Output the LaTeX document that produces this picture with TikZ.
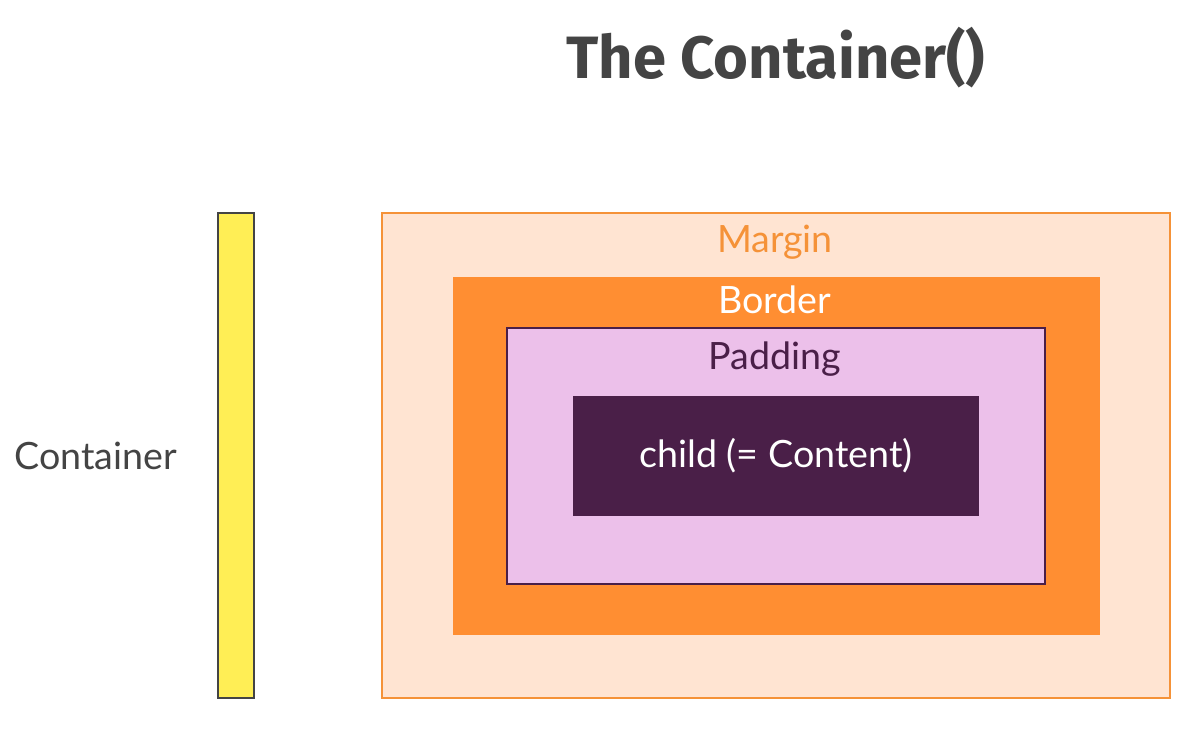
\documentclass[tikz,border=0pt]{standalone}
\usepackage{fontspec}
\setmainfont{Lato}
\newfontfamily\titlefont{Fira Sans}
\usetikzlibrary{positioning}
\definecolor{TextClr}{RGB}{68,68,68}
\definecolor{BarClr}{RGB}{255,238,85}
\definecolor{MarginClr}{RGB}{255,228,210}
\definecolor{MarginLine}{RGB}{245,146,56}
\definecolor{BorderClr}{RGB}{255,142,50}
\definecolor{PaddingClr}{RGB}{236,192,234}
\definecolor{ChildClr}{RGB}{74,31,72}

\begin{document}
\begin{tikzpicture}[
  box/.style={rectangle,inner sep=0pt,outer sep=0pt,line width=0.5pt},
  lbl/.style={inner sep=0pt,font=\fontsize{10.7}{13}\selectfont}]
\useasboundingbox[fill=white] (0,0) rectangle (11.95,7.31);

% title
\node[font=\titlefont\bfseries\fontsize{17}{20}\selectfont,text=TextClr] (title) at (7.76,6.73) {The Container()};

% container bar
\node[box,draw=TextClr,fill=BarClr,minimum width=0.36cm,minimum height=4.85cm] (bar) at (2.36,2.755) {};
\node[lbl,text=TextClr] (container) at (0.955,2.75) {Container};

% nested boxes
\node[box,draw=MarginLine,fill=MarginClr,minimum width=7.88cm,minimum height=4.85cm] (margin) at (7.76,2.755) {};
\node[box,fill=BorderClr,minimum width=6.47cm,minimum height=3.58cm] (border) at (7.765,2.75) {};
\node[box,draw=ChildClr,fill=PaddingClr,minimum width=5.38cm,minimum height=2.56cm] (padding) at (7.76,2.75) {};
\node[box,fill=ChildClr,minimum width=4.06cm,minimum height=1.20cm] (child) at (7.76,2.75) {};

\node[lbl,text=MarginLine] (marginlbl) at (7.75,4.89) {Margin};
\node[lbl,text=white] (borderlbl) at (7.75,4.31) {Border};
\node[lbl,text=ChildClr] (paddinglbl) at (7.75,3.72) {Padding};
\node[lbl,text=white] (childlbl) at (child) {child (= Content)};

\end{tikzpicture}
\end{document}
